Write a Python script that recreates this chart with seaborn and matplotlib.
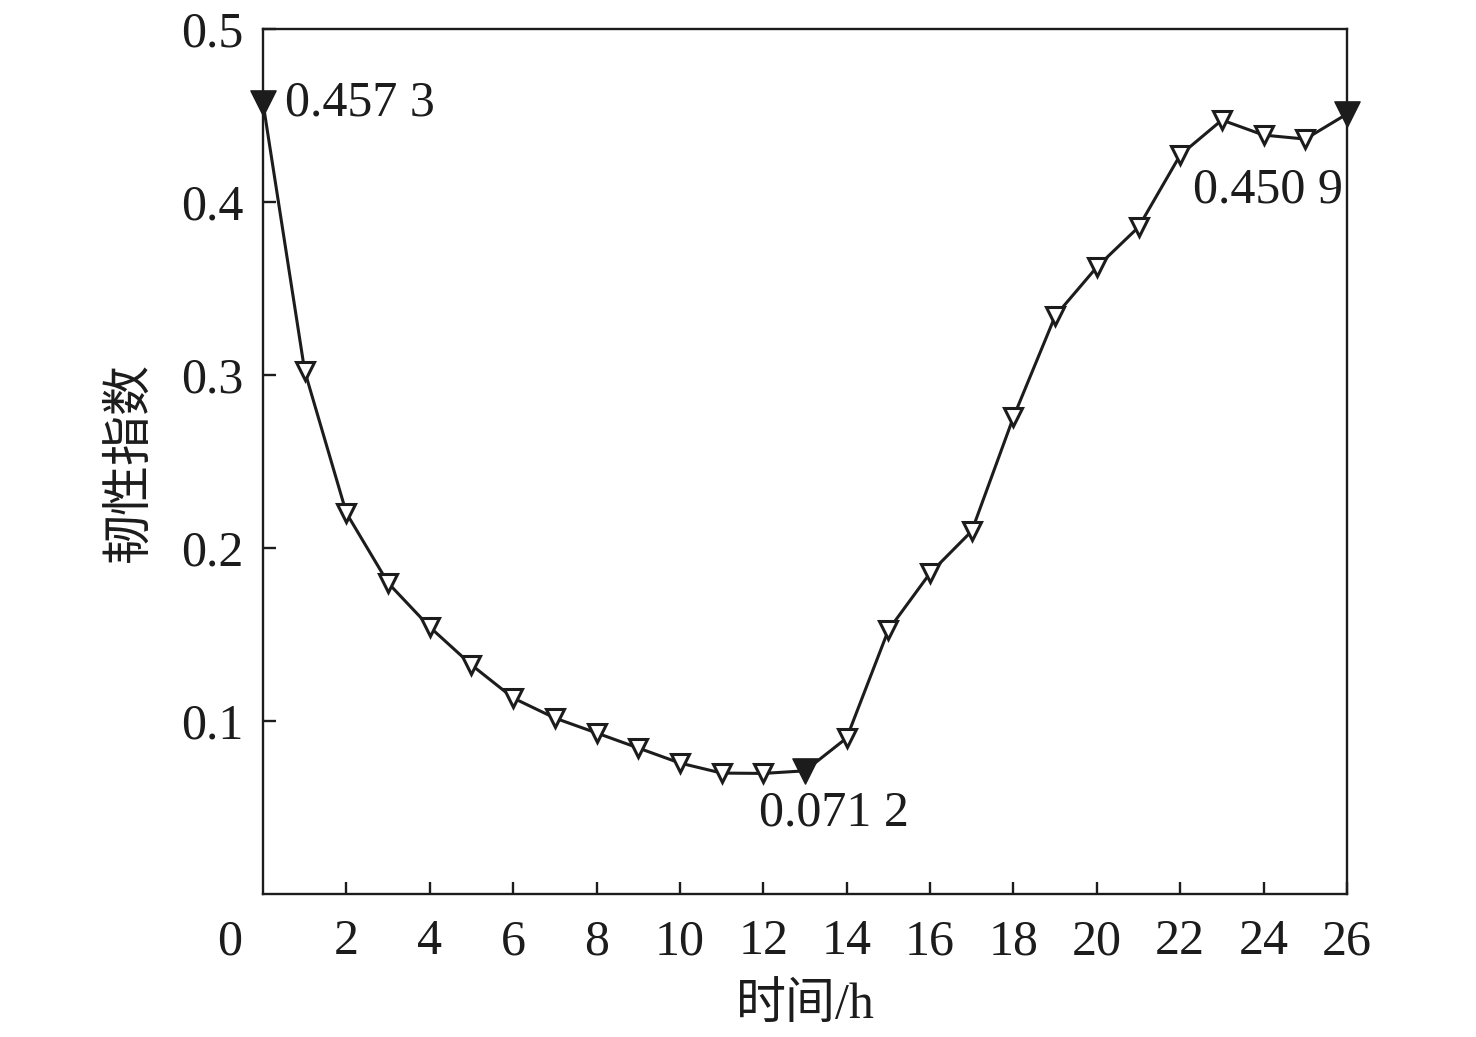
import matplotlib
matplotlib.use('Agg')
import matplotlib.pyplot as plt
import matplotlib.transforms as mtransforms
import seaborn as sns
import pandas as pd

# 韧性指数随时间变化
hours = list(range(27))
resilience = [0.4573, 0.3023, 0.2202, 0.1798, 0.1543, 0.1324, 0.1133, 0.1017,
              0.0931, 0.0844, 0.0757, 0.0699, 0.0697, 0.0712, 0.0902, 0.1526,
              0.1855, 0.2098, 0.2757, 0.3341, 0.3624, 0.3855, 0.4272, 0.4474,
              0.4387, 0.4364, 0.4509]
key_hours = [0, 13, 26]
key_labels = ['0.457 3', '0.071 2', '0.450 9']
xtick_vals = list(range(0, 27, 2))
ytick_vals = [0.1, 0.2, 0.3, 0.4, 0.5]

df = pd.DataFrame({'hour': hours, 'resilience': resilience})
df_key = df[df['hour'].isin(key_hours)]

sns.set_style('ticks')
plt.rcParams['font.family'] = ['Liberation Serif', 'Noto Sans CJK SC']
plt.rcParams['axes.unicode_minus'] = False

ink = '#1c1c1c'
fs = 36
fig = plt.figure(figsize=(14.76, 10.37), dpi=100)
ax = fig.add_axes([0.1782, 0.1379, 0.7344, 0.8341])

sns.lineplot(data=df, x='hour', y='resilience', ax=ax, color=ink, lw=2.2,
             marker='v', markersize=13, markerfacecolor='white',
             markeredgecolor=ink, markeredgewidth=2.2)
ax.lines[0].set_clip_on(False)
sns.scatterplot(data=df_key, x='hour', y='resilience', ax=ax, marker='v',
                s=330, color=ink, edgecolor=ink, linewidth=1, zorder=5,
                clip_on=False)

# 标注关键点
ax.annotate(key_labels[0], (key_hours[0], resilience[0]), xytext=(16, 0),
            textcoords='offset points', ha='left', va='center', fontsize=fs,
            color=ink)
ax.annotate(key_labels[1], (key_hours[1], resilience[13]), xytext=(21, -14),
            textcoords='offset points', ha='center', va='top', fontsize=fs,
            color=ink)
ax.annotate(key_labels[2], (key_hours[2], resilience[26]), xytext=(-3, -38),
            textcoords='offset points', ha='right', va='top', fontsize=fs,
            color=ink)

ax.set_xlim(0, 26)
ax.set_ylim(0, 0.5)
ax.set_xticks(xtick_vals)
ax.set_xticklabels([str(v) for v in xtick_vals])
ax.set_yticks(ytick_vals)
ax.set_yticklabels([f'{v:.1f}' for v in ytick_vals])
ax.tick_params(direction='in', length=9, width=1.7, colors=ink,
               labelsize=fs, labelcolor=ink)
ax.tick_params(axis='x', pad=18)
ax.tick_params(axis='y', pad=14)
# 原点 "0" 向左偏移
lab0 = ax.get_xticklabels()[0]
lab0.set_transform(lab0.get_transform() +
                   mtransforms.ScaledTranslation(-0.33, 0, fig.dpi_scale_trans))
ax.xaxis.get_major_ticks()[0].tick1line.set_visible(False)

for s in ax.spines.values():
    s.set_linewidth(1.7)
    s.set_color(ink)
    s.set_visible(True)

ax.set_xlabel('时间/h', fontsize=36, color=ink, labelpad=12)
ax.set_ylabel('韧性指数', fontsize=36, color=ink, labelpad=20)

fig.savefig('out.png', dpi=100, facecolor='white')
